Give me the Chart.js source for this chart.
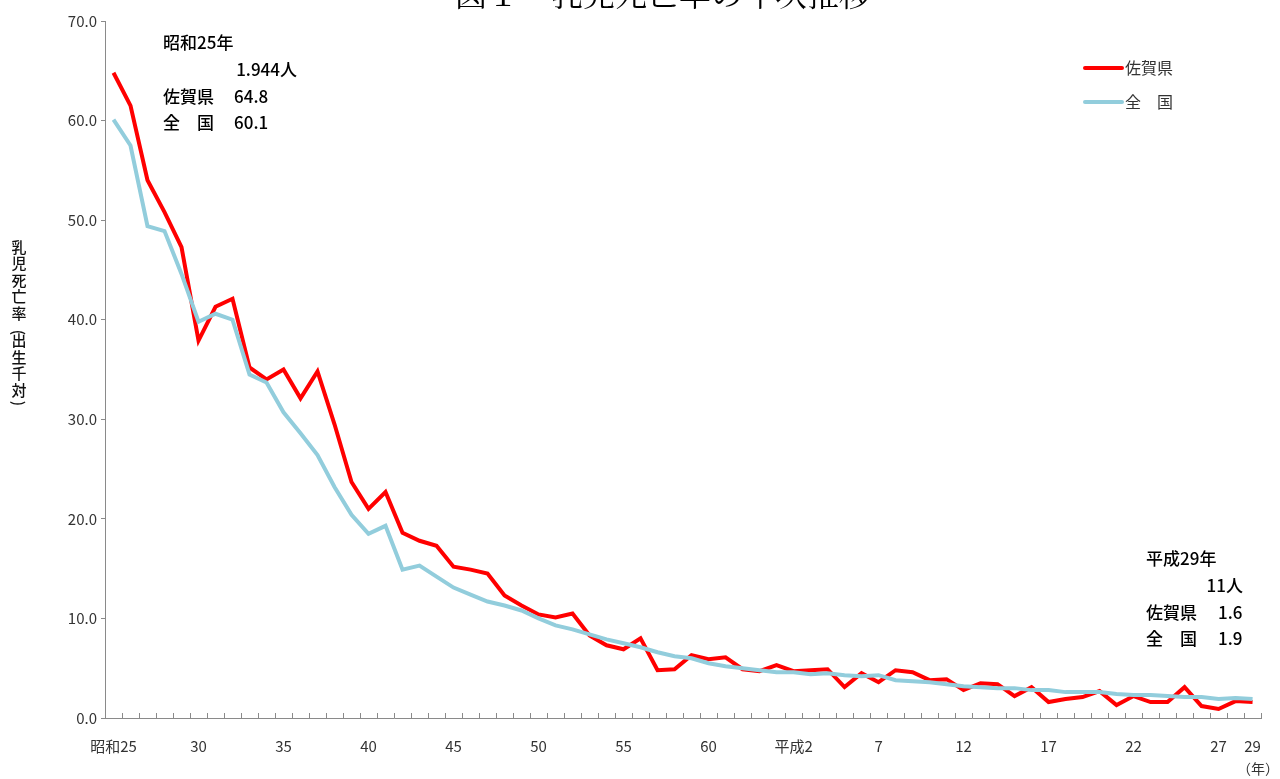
<!DOCTYPE html>
<html>
<head>
<meta charset="utf-8">
<script src="https://cdn.jsdelivr.net/npm/chart.js@4.4.1/dist/chart.umd.min.js"></script>
<style>
  html, body { margin: 0; padding: 0; background: #fff; }
  #wrap { width: 1280px; height: 779px; position: relative; }
</style>
</head>
<body>
<div id="wrap"><canvas id="c" width="1280" height="779"></canvas></div>
<script>
// 昭和25年(1950) 〜 平成29年(2017)
const years = [
  '1950','1951','1952','1953','1954','1955','1956','1957','1958','1959',
  '1960','1961','1962','1963','1964','1965','1966','1967','1968','1969',
  '1970','1971','1972','1973','1974','1975','1976','1977','1978','1979',
  '1980','1981','1982','1983','1984','1985','1986','1987','1988','1989',
  '1990','1991','1992','1993','1994','1995','1996','1997','1998','1999',
  '2000','2001','2002','2003','2004','2005','2006','2007','2008','2009',
  '2010','2011','2012','2013','2014','2015','2016','2017'
];

const xTickLabels = [
  '昭和25','','','','','30','','','','',
  '35','','','','','40','','','','',
  '45','','','','','50','','','','',
  '55','','','','','60','','','','',
  '平成2','','','','','7','','','','',
  '12','','','','','17','','','','',
  '22','','','','','27','','29'
];

const yTicks = [0, 10, 20, 30, 40, 50, 60, 70];

// 乳児死亡率（出生千対）
const saga = [
  64.8, 61.5, 54.0, 50.8, 47.3, 37.9, 41.3, 42.1, 35.2, 34.0,
  35.0, 32.1, 34.8, 29.5, 23.7, 21.0, 22.7, 18.6, 17.8, 17.3,
  15.2, 14.9, 14.5, 12.3, 11.3, 10.4, 10.1, 10.5, 8.3, 7.3,
  6.9, 8.0, 4.8, 4.9, 6.3, 5.9, 6.1, 4.9, 4.7, 5.3,
  4.7, 4.8, 4.9, 3.1, 4.5, 3.6, 4.8, 4.6, 3.8, 3.9,
  2.8, 3.5, 3.4, 2.2, 3.1, 1.6, 1.9, 2.1, 2.7, 1.3,
  2.2, 1.6, 1.6, 3.1, 1.2, 0.9, 1.7, 1.6
];

const zenkoku = [
  60.1, 57.5, 49.4, 48.9, 44.6, 39.8, 40.6, 40.0, 34.5, 33.7,
  30.7, 28.6, 26.4, 23.2, 20.4, 18.5, 19.3, 14.9, 15.3, 14.2,
  13.1, 12.4, 11.7, 11.3, 10.8, 10.0, 9.3, 8.9, 8.4, 7.9,
  7.5, 7.1, 6.6, 6.2, 6.0, 5.5, 5.2, 5.0, 4.8, 4.6,
  4.6, 4.4, 4.5, 4.3, 4.2, 4.3, 3.8, 3.7, 3.6, 3.4,
  3.2, 3.1, 3.0, 3.0, 2.8, 2.8, 2.6, 2.6, 2.6, 2.4,
  2.3, 2.3, 2.2, 2.1, 2.1, 1.9, 2.0, 1.9
];

const notesFirst = ['昭和25年', '1.944人', '佐賀県', '64.8', '全　国', '60.1'];
const notesLast = ['平成29年', '11人', '佐賀県', '1.6', '全　国', '1.9'];

const JP = '"Noto Sans CJK JP", "Noto Sans", sans-serif';
const axisColor = '#8a8a8a';
const RED = '#ff0000';
const BLUE = '#92cddc';

// x軸の目盛（内向き）、凡例、注記、縦書きの軸タイトル
const decorations = {
  id: 'decorations',
  afterDraw(chart) {
    const ctx = chart.ctx;
    const x = chart.scales.x;
    const area = chart.chartArea;
    ctx.save();

    // inward tick marks between categories
    const step = x.getPixelForValue(1) - x.getPixelForValue(0);
    ctx.strokeStyle = axisColor;
    ctx.lineWidth = 1;
    ctx.beginPath();
    for (let i = 0; i <= years.length; i++) {
      const px = Math.round(x.getPixelForValue(i) - step / 2) + 0.5;
      ctx.moveTo(px, area.bottom);
      ctx.lineTo(px, area.bottom - 5);
    }
    ctx.stroke();

    // title (cut off at top)
    ctx.fillStyle = '#000';
    ctx.font = '32px "Noto Serif CJK JP", serif, ' + JP;
    ctx.textAlign = 'center';
    ctx.textBaseline = 'alphabetic';
    ctx.fillText('図１　乳児死亡率の年次推移', 663, 6);

    // legend
    ctx.textAlign = 'left';
    ctx.textBaseline = 'middle';
    ctx.font = '16px ' + JP;
    chart.data.datasets.forEach((ds, k) => {
      const y = 68 + k * 34;
      ctx.strokeStyle = ds.borderColor;
      ctx.lineWidth = 4;
      ctx.lineCap = 'round';
      ctx.beginPath();
      ctx.moveTo(1085, y);
      ctx.lineTo(1122, y);
      ctx.stroke();
      ctx.fillStyle = '#333';
      ctx.fillText(ds.label, 1125, y);
    });

    // notes
    ctx.fillStyle = '#000';
    ctx.font = '500 17px ' + JP;
    const note = (n, x0, y0, xr, xv) => {
      ctx.textAlign = 'left';
      ctx.fillText(n[0], x0, y0);
      ctx.textAlign = 'right';
      ctx.fillText(n[1], xr, y0 + 27);
      ctx.textAlign = 'left';
      ctx.fillText(n[2], x0, y0 + 54);
      ctx.fillText(n[3], xv, y0 + 54);
      ctx.fillText(n[4], x0, y0 + 80);
      ctx.fillText(n[5], xv, y0 + 80);
    };
    note(notesFirst, 163, 43, 297, 234);
    note(notesLast, 1146, 559, 1243, 1218);

    // y axis title, vertical (parentheses turned sideways)
    ctx.fillStyle = '#111';
    ctx.font = '500 15px ' + JP;
    ctx.textAlign = 'center';
    const chars = ['乳', '児', '死', '亡', '率', '（', '出', '生', '千', '対', '）'];
    let cy = 247;
    chars.forEach((ch) => {
      if (ch === '（' || ch === '）') {
        ctx.save();
        ctx.translate(19, cy + (ch === '（' ? 3 : -3));
        ctx.rotate(Math.PI / 2);
        ctx.fillText(ch === '（' ? '(' : ')', 0, 0);
        ctx.restore();
        cy += 11;
      } else {
        ctx.fillText(ch, 19, cy);
        cy += 16.5;
      }
    });

    // unit
    ctx.fillStyle = '#333';
    ctx.font = '14px ' + JP;
    ctx.textAlign = 'center';
    ctx.fillText('（年）', 1258, 769);

    ctx.restore();
  }
};

new Chart(document.getElementById('c'), {
  type: 'line',
  data: {
    labels: years,
    datasets: [
      {
        label: '佐賀県',
        data: saga,
        borderColor: RED,
        backgroundColor: RED,
        borderWidth: 4,
        pointRadius: 0,
        tension: 0,
        order: 1
      },
      {
        label: '全　国',
        data: zenkoku,
        borderColor: BLUE,
        backgroundColor: BLUE,
        borderWidth: 4,
        pointRadius: 0,
        tension: 0,
        order: 0
      }
    ]
  },
  options: {
    responsive: false,
    animation: false,
    events: [],
    layout: { padding: { left: 0, right: 15, top: 21, bottom: 0 } },
    plugins: {
      legend: { display: false },
      tooltip: { enabled: false },
      title: { display: false }
    },
    scales: {
      x: {
        type: 'category',
        offset: true,
        grid: { display: true, drawOnChartArea: false, drawTicks: false, offset: true, color: axisColor },
        border: { display: true, color: axisColor, width: 1 },
        ticks: {
          autoSkip: false,
          maxRotation: 0,
          minRotation: 0,
          padding: 19,
          color: '#333',
          font: { family: JP, size: 15 },
          callback: (v, i) => xTickLabels[i]
        },
        afterFit: (s) => { s.height = 61; }
      },
      y: {
        min: 0,
        max: 70,
        afterBuildTicks: (s) => { s.ticks = yTicks.map(v => ({ value: v })); },
        grid: { display: true, drawOnChartArea: false, drawTicks: true, tickLength: 4, color: axisColor },
        border: { display: true, color: axisColor, width: 1 },
        ticks: {
          padding: 4,
          color: '#333',
          font: { family: JP, size: 15 },
          callback: (v) => Number(v).toFixed(1)
        },
        afterFit: (s) => { s.width = 105; }
      }
    }
  },
  plugins: [decorations]
});
</script>
</body>
</html>
